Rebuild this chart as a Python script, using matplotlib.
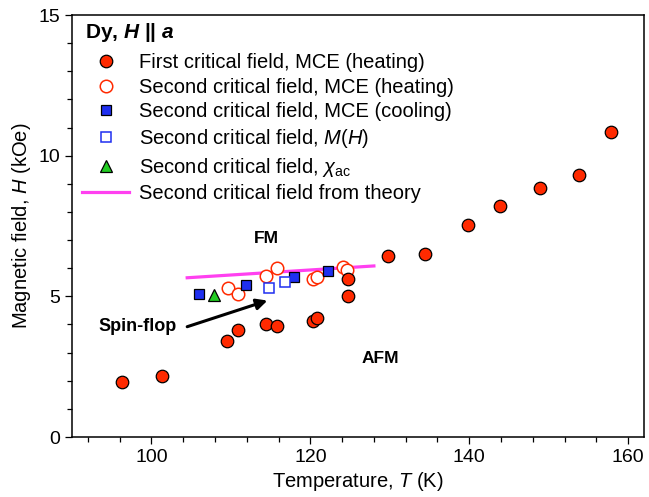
import matplotlib
matplotlib.use("Agg")
import matplotlib.pyplot as plt
from matplotlib.ticker import MultipleLocator
from matplotlib.lines import Line2D

plt.rcParams['font.family'] = ['Liberation Sans', 'DejaVu Sans']
plt.rcParams['mathtext.fontset'] = 'custom'
plt.rcParams['mathtext.rm'] = 'Liberation Sans'
plt.rcParams['mathtext.it'] = 'Liberation Sans:italic'
plt.rcParams['mathtext.bf'] = 'Liberation Sans:bold'
plt.rcParams['mathtext.bfit'] = 'Liberation Sans:bold:italic'

# First critical field, MCE (heating) - filled red circles
T_first = [96.3, 101.3, 109.5, 110.9, 114.4, 115.8, 120.3, 120.8, 124.7, 124.7,
           129.8, 134.4, 139.9, 143.9, 148.9, 153.8, 157.8]
H_first = [1.96, 2.17, 3.42, 3.82, 4.02, 3.93, 4.12, 4.22, 5.02, 5.62,
           6.42, 6.52, 7.52, 8.22, 8.84, 9.33, 10.85]

# Second critical field, MCE (heating) - open red circles
T_second_heat = [109.6, 110.9, 114.4, 115.8, 120.3, 120.8, 124.1, 124.6]
H_second_heat = [5.30, 5.10, 5.74, 6.00, 5.60, 5.70, 6.03, 5.93]

# Second critical field, MCE (cooling) - filled blue squares
T_second_cool = [106.0, 111.9, 118.0, 122.2]
H_second_cool = [5.10, 5.42, 5.70, 5.90]

# Second critical field, M(H) - open blue squares
T_second_MH = [114.8, 116.8]
H_second_MH = [5.30, 5.52]

# Second critical field, chi_ac - green triangle
T_second_chi = [107.9]
H_second_chi = [5.06]

# Second critical field from theory - magenta line
T_theory = [104.5, 128.0]
H_theory = [5.66, 6.08]

labels = ["First critical field, MCE (heating)",
          "Second critical field, MCE (heating)",
          "Second critical field, MCE (cooling)",
          "Second critical field, $M$($H$)",
          r"Second critical field, $\chi_{\rm ac}$",
          "Second critical field from theory"]

red = '#ff2a00'
blue = '#1f2ff0'
green = '#22cc22'
magenta = '#ff40f0'

W, Hpx = 649, 497
L, R, T, B = 72, 644, 15, 437
AW, AH = R - L, B - T

fig = plt.figure(figsize=(6.49, 4.97), dpi=100)
ax = fig.add_axes([L/W, 1-B/Hpx, AW/W, AH/Hpx])

ms_c = 9.0
ms_s = 7.8
ax.plot(T_theory, H_theory, color=magenta, lw=2.3, zorder=2)
ax.plot(T_second_heat, H_second_heat, 'o', ms=ms_c, mfc='white', mec=red, mew=1.1, zorder=3)
ax.plot(T_second_cool, H_second_cool, 's', ms=ms_s, mfc=blue, mec='black', mew=0.9, zorder=4)
ax.plot(T_second_MH, H_second_MH, 's', ms=ms_s, mfc='white', mec=blue, mew=1.1, zorder=4)
ax.plot(T_second_chi, H_second_chi, '^', ms=8.2, mfc=green, mec='black', mew=0.9, zorder=4)
ax.plot(T_first, H_first, 'o', ms=ms_c, mfc=red, mec='black', mew=0.9, zorder=5)

ax.set_xlim(90, 162)
ax.set_ylim(0, 15)
ax.xaxis.set_major_locator(MultipleLocator(20))
ax.xaxis.set_minor_locator(MultipleLocator(4))
ax.yaxis.set_major_locator(MultipleLocator(5))
ax.yaxis.set_minor_locator(MultipleLocator(1))
ax.tick_params(which='both', direction='out', width=0.9, labelsize=14, top=False, right=False)
ax.tick_params(which='major', length=5)
ax.tick_params(which='minor', length=3.5)
for s in ax.spines.values():
    s.set_linewidth(1.1)

ax.set_xlabel("Temperature, $T$ (K)", fontsize=14.5, labelpad=3)
ax.set_ylabel("Magnetic field, $H$ (kOe)", fontsize=14.5, labelpad=4)

ax.text(114.5, 7.07, "FM", fontsize=12.5, fontweight='bold', ha='center', va='center')
ax.text(128.8, 2.8, "AFM", fontsize=12.5, fontweight='bold', ha='center', va='center')
ax.text(98.2, 3.92, "Spin-flop", fontsize=13, fontweight='bold', ha='center', va='center')
ax.annotate("", xy=(114.6, 4.85), xytext=(104.5, 3.92),
            arrowprops=dict(arrowstyle='-|>', color='black', lw=2.2,
                            mutation_scale=16, shrinkA=0, shrinkB=0))

ax.text(13/AW, 1 - 18/AH, r"Dy, $\mathbfit{H}$ || $\mathbfit{a}$", transform=ax.transAxes,
        fontsize=15, fontweight='bold', ha='left', va='center')

handles = [
    Line2D([], [], ls='none', marker='o', ms=ms_c, mfc=red, mec='black', mew=0.9),
    Line2D([], [], ls='none', marker='o', ms=ms_c, mfc='white', mec=red, mew=1.1),
    Line2D([], [], ls='none', marker='s', ms=ms_s, mfc=blue, mec='black', mew=0.9),
    Line2D([], [], ls='none', marker='s', ms=ms_s, mfc='white', mec=blue, mew=1.1),
    Line2D([], [], ls='none', marker='^', ms=8.2, mfc=green, mec='black', mew=0.9),
    Line2D([], [], color=magenta, lw=2.3),
]
leg = ax.legend(handles, labels, loc='upper left', bbox_to_anchor=(10/AW, 1 - 38/AH),
                frameon=False, fontsize=14.5, handlelength=2.35, handletextpad=0.5,
                labelspacing=0.28, borderaxespad=0.0, borderpad=0.0)

fig.savefig("out.png", dpi=100)
